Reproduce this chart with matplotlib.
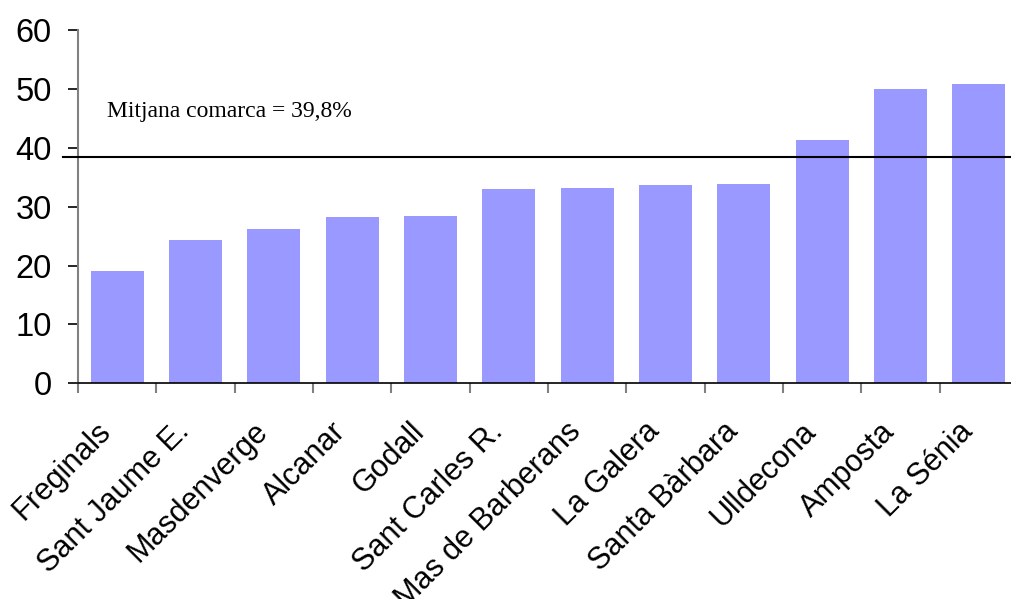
import matplotlib
matplotlib.use("Agg")
import matplotlib.pyplot as plt
import matplotlib.transforms as mtransforms
import numpy as np

towns = ["Freginals", "Sant Jaume E.", "Masdenverge", "Alcanar", "Godall",
         "Sant Carles R.", "Mas de Barberans", "La Galera", "Santa Bàrbara",
         "Ulldecona", "Amposta", "La Sénia"]
values = [19.1, 24.3, 26.2, 28.25, 28.4, 33.0, 33.2, 33.7, 33.85, 41.3, 50.0, 50.8]
mean_line = 38.5
mean_label = "Mitjana comarca = 39,8%"

W, H = 1011, 599
fig = plt.figure(figsize=(W / 100, H / 100), dpi=100)
ax = fig.add_axes([78 / W, 1 - 383.3 / H, 940 / W, 353.3 / H])

x = np.arange(len(towns))
ax.bar(x, values, width=0.68, color="#9999FF", zorder=2)

ax.set_xlim(-0.5, len(towns) - 0.5)
ax.set_ylim(0, 60)
ax.set_yticks(range(0, 61, 10))

# category labels drawn as text, tick marks on boundaries
ax.set_xticks(np.arange(-0.5, len(towns), 1))
ax.set_xticklabels([])
ax.tick_params(axis="x", length=7, width=1.5, color="#808080", direction="out")
shift = mtransforms.ScaledTranslation(-0.21, -0.33, fig.dpi_scale_trans)
for xi, name in zip(x, towns):
    ax.text(xi, 0, name, transform=ax.get_xaxis_transform() + shift,
            rotation=45, ha="right", va="top", rotation_mode="anchor",
            fontsize=22, family="Liberation Sans", clip_on=False)

ax.tick_params(axis="y", length=7, width=1.2, color="black", pad=12,
               labelsize=23.5)
for lab in ax.get_yticklabels():
    lab.set_family("Liberation Sans")

for s in ["top", "right"]:
    ax.spines[s].set_visible(False)
ax.spines["left"].set_color("#808080")
ax.spines["left"].set_linewidth(1.5)
ax.spines["bottom"].set_color("black")
ax.spines["bottom"].set_linewidth(1.2)
ax.spines["bottom"].set_zorder(3)

ax.axhline(mean_line, xmin=-0.016, xmax=1.0, color="black", lw=1.5,
           clip_on=False, zorder=4)
ax.text(0.031, 0.754, mean_label, transform=ax.transAxes, fontsize=17,
        family="Liberation Serif", va="baseline", ha="left")

fig.savefig("out.png", dpi=100)
